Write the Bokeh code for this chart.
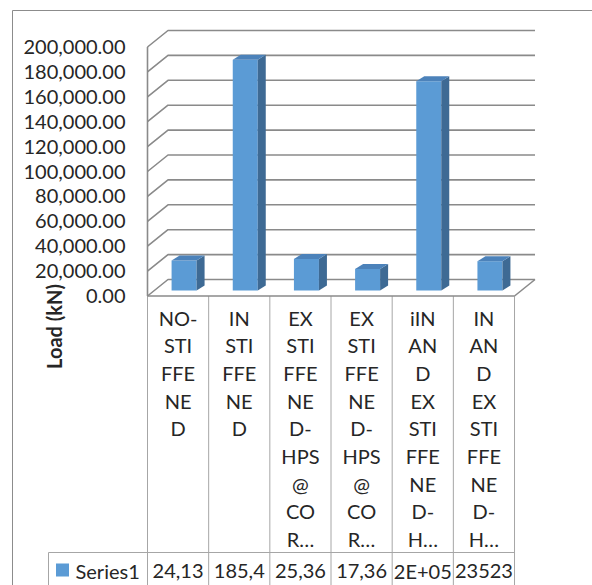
import math

from bokeh.plotting import figure
from bokeh.models import Range1d
from bokeh.core.properties import value
from bokeh.embed import file_html
from bokeh.resources import INLINE

# ---- data ---------------------------------------------------------------
# category names as they wrap inside the data-table cells
cat_lines = [
    ["NO-", "STI", "FFE", "NE", "D"],
    ["IN", "STI", "FFE", "NE", "D"],
    ["EX", "STI", "FFE", "NE", "D-", "HPS", "@", "CO", "R\u2026"],
    ["EX", "STI", "FFE", "NE", "D-", "HPS", "@", "CO", "R\u2026"],
    ["iIN", "AN", "D", "EX", "STI", "FFE", "NE", "D-", "H\u2026"],
    ["IN", "AN", "D", "EX", "STI", "FFE", "NE", "D-", "H\u2026"],
]
loads = [24130, 185400, 25360, 17360, 168000, 23523]          # kN
table_text = ["24,13", "185,4", "25,36", "17,36", "2E+05", "23523"]
series_name = "Series1"
y_ticks = [0, 20000, 40000, 60000, 80000, 100000, 120000, 140000, 160000, 180000, 200000]
y_tick_labels = ["{:,.2f}".format(t) for t in y_ticks]
y_title = "Load (kN)"

# ---- layout -------------------------------------------------------------
W, H = 592, 585
COL = 61.17        # pixels per category column
VAL = 1.245e-3     # pixels per kN
LEFT = 147         # screen x of the floor's front-left corner
BASE = 295.5       # screen y (from top) of the floor's front edge

FONT = value("Lato")
TXT = "#262626"
GRID = "#8a8a8a"
TABLE = "#a6a6a6"
FRONT, SIDE, TOPC = "#5B9BD5", "#3E6A94", "#4C82BA"

x0 = -0.5 - LEFT / COL
y0 = -(H - BASE) / VAL


def dx(px):
    return px / COL


def dy(px):
    return px / VAL


def X(px):
    return x0 + px / COL


p = figure(width=W, height=H,
           x_range=Range1d(x0, x0 + W / COL),
           y_range=Range1d(y0, y0 + H / VAL),
           x_axis_type=None, y_axis_type=None,
           output_backend="svg", toolbar_location=None,
           min_border=0, outline_line_color=None,
           background_fill_color="white", border_fill_color="white")
p.grid.visible = False
# second vertical scale for the data table, counted in pixels from the top
p.extra_y_ranges = {"tbl": Range1d(start=H, end=0)}

n = len(loads)
xL, xR = -0.5, n - 0.5
FX, FY = dx(20.5), dy(16.5)

# chart area border
p.multi_line(xs=[[X(12), X(12)], [X(12), X(W + 5)]], ys=[[10, H + 5], [10, 10]],
             y_range_name="tbl", line_color="#8c8c8c", line_width=1)

# walls: value gridlines run along the side wall and across the back wall
gxs = [[xL, xL + FX, xR + FX] for _ in y_ticks]
gys = [[t, t + FY, t + FY] for t in y_ticks]
gxs += [[xL, xL], [xR, xR + FX]]
gys += [[0, y_ticks[-1]], [0, FY]]
p.multi_line(xs=gxs, ys=gys, line_color=GRID, line_width=1.6)

# ---- 3-D columns --------------------------------------------------------
bw = dx(25)
off_x, off_y = dx(6), dy(5.5)
BDX, BDY = dx(8), dy(5)
cx = [i + off_x for i in range(n)]
tops = [off_y + v for v in loads]

p.vbar(x=cx, bottom=off_y, top=tops, width=bw, fill_color=FRONT, line_color=None)
side_x = [[c + bw / 2, c + bw / 2 + BDX, c + bw / 2 + BDX, c + bw / 2] for c in cx]
side_y = [[off_y, off_y + BDY, t + BDY, t] for t in tops]
p.patches(side_x, side_y, fill_color=SIDE, line_color=None)
top_x = [[c - bw / 2, c + bw / 2, c + bw / 2 + BDX, c - bw / 2 + BDX] for c in cx]
top_y = [[t, t, t + BDY, t + BDY] for t in tops]
p.patches(top_x, top_y, fill_color=TOPC, line_color=None)

# value axis labels
p.text(x=[X(125)] * len(y_ticks), y=y_ticks, text=y_tick_labels,
       text_align="right", text_baseline="middle",
       text_font=FONT, text_font_size="20px", text_color=TXT)

p.text(x=[X(53.5)], y=[326], text=[y_title], angle=math.pi / 2,
       y_range_name="tbl", text_align="center", text_baseline="middle",
       text_font=FONT, text_font_size="20px", text_font_style="bold",
       text_color=TXT)

# ---- data table ---------------------------------------------------------
row_top = 552
txs = [[b - 0.5, b - 0.5] for b in range(n + 1)]
tys = [[BASE, H + 5] for _ in range(n + 1)]
txs += [[X(48), xR], [X(48), X(48)]]
tys += [[row_top, row_top], [row_top, H + 5]]
p.multi_line(xs=txs, ys=tys, y_range_name="tbl", line_color=TABLE, line_width=1)
p.multi_line(xs=[[xL, xR]], ys=[[0, 0]], line_color=GRID, line_width=1.6)

lx, ly, lt = [], [], []
for i, lines in enumerate(cat_lines):
    for k, s in enumerate(lines):
        lx.append(i)
        ly.append(317 + 27.7 * k)
        lt.append(s)
p.text(x=lx, y=ly, text=lt, y_range_name="tbl",
       text_align="center", text_baseline="middle",
       text_font=FONT, text_font_size="20px", text_color=TXT)

p.rect(x=[X(62)], y=[569.5], width=dx(13), height=13, y_range_name="tbl",
       fill_color=FRONT, line_color=None)
p.text(x=[X(75)], y=[570], text=[series_name], y_range_name="tbl",
       text_align="left", text_baseline="middle",
       text_font=FONT, text_font_size="20px", text_color=TXT)
p.text(x=list(range(n)), y=[570] * n, text=table_text, y_range_name="tbl",
       text_align="center", text_baseline="middle",
       text_font=FONT, text_font_size="20px", text_color=TXT)

open("out.html", "w").write(file_html(p, INLINE))
